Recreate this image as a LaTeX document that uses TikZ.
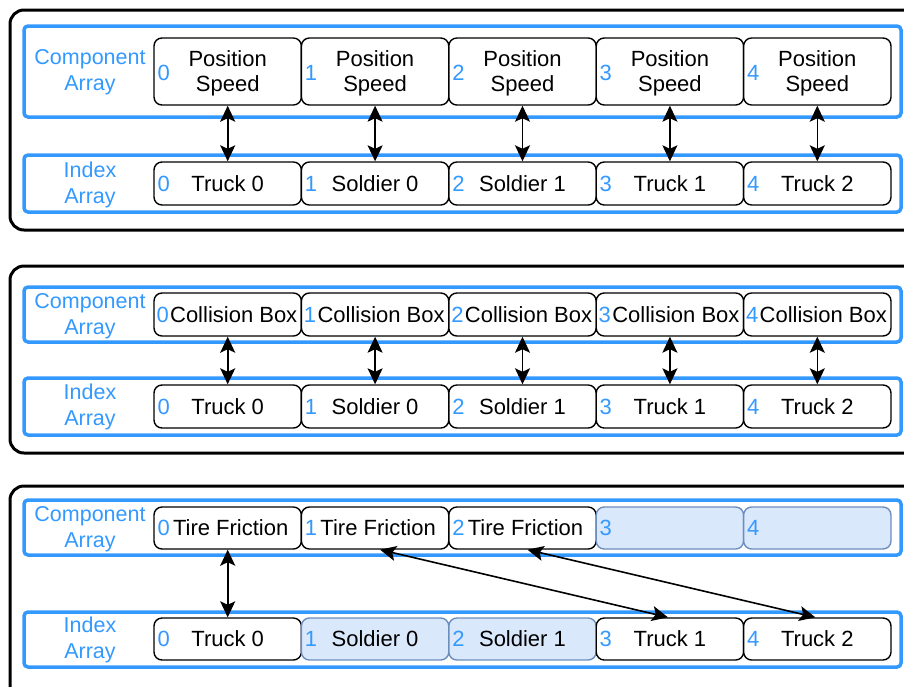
\documentclass[tikz,border=0pt]{standalone}
\usepackage{fontspec}
\setmainfont{Liberation Sans}
\usetikzlibrary{arrows.meta}
\definecolor{idxblue}{HTML}{3399FF}
\definecolor{freefill}{HTML}{DAE8FC}
\definecolor{freeline}{HTML}{6C8EBF}
\tikzset{
  panel/.style={draw=black, line width=3pt, rounded corners=14pt},
  arraybox/.style={draw=idxblue, line width=3.5pt, rounded corners=4pt},
  cell/.style={draw=black, line width=1.4pt, rounded corners=8pt, fill=white,
    minimum width=147.4pt, inner sep=0pt},
  freecell/.style={cell, draw=freeline, fill=freefill},
  arrlabel/.style={text=idxblue, align=center, inner sep=0pt,
    font=\fontsize{21.5}{26}\selectfont},
  num/.style={text=idxblue, anchor=west, inner sep=0pt,
    font=\fontsize{22}{25}\selectfont},
  txt/.style={align=center, inner sep=0pt, font=\fontsize{22}{25}\selectfont},
  headtip/.tip={Stealth[length=16pt,width=15pt,inset=3.5pt]},
  link/.style={line width=1.6pt, headtip-headtip}
}
\begin{document}
\begin{tikzpicture}[x=1pt, y=-1pt]
\useasboundingbox (0,0) rectangle (904,686);

% ---------- first system: Position / Speed ----------
\draw[panel] (10,10) rectangle (925,230);
\draw[arraybox] (24,26) rectangle (901,117);
\draw[arraybox] (24,155) rectangle (901,212);
\node[arrlabel] (la1) at (90,72) {Component\\Array};
\node[arrlabel] (lb1) at (90,185) {Index\\Array};
\foreach \i/\t in {0/Truck 0,1/Soldier 0,2/Soldier 1,3/Truck 1,4/Truck 2} {
  \node[cell, minimum height=67pt] (pa\i) at ({227.7+147.4*\i},71.5) {};
  \node[txt] (pa\i-t) at ([yshift=-2pt]pa\i.center) {Position\\Speed};
  \node[num] (pa\i-n) at ([xshift=4pt,yshift=-1pt]pa\i.west) {\i};
  \node[cell, minimum height=43pt] (pb\i) at ({227.7+147.4*\i},183.5) {};
  \node[txt] (pb\i-t) at (pb\i) {\t};
  \node[num] (pb\i-n) at ([xshift=4pt]pb\i.west) {\i};
  \draw[link] (pa\i.south) -- (pb\i.north);
}

% ---------- second system: Collision Box ----------
\draw[panel] (10,266) rectangle (925,453);
\draw[arraybox] (24,287) rectangle (901,342);
\draw[arraybox] (24,378) rectangle (901,435);
\node[arrlabel] (la2) at (90,316) {Component\\Array};
\node[arrlabel] (lb2) at (90,407) {Index\\Array};
\foreach \i/\t in {0/Truck 0,1/Soldier 0,2/Soldier 1,3/Truck 1,4/Truck 2} {
  \node[cell, minimum height=43pt] (qa\i) at ({227.7+147.4*\i},314.5) {};
  \node[txt] (qa\i-t) at ([xshift=6pt]qa\i.center) {Collision Box};
  \node[num] (qa\i-n) at ([xshift=3pt]qa\i.west) {\i};
  \node[cell, minimum height=43pt] (qb\i) at ({227.7+147.4*\i},406.5) {};
  \node[txt] (qb\i-t) at (qb\i) {\t};
  \node[num] (qb\i-n) at ([xshift=4pt]qb\i.west) {\i};
  \draw[link] (qa\i.south) -- (qb\i.north);
}

% ---------- third system: Tire Friction (sparse) ----------
\draw[panel] (10,486) rectangle (925,720);
\draw[arraybox] (24,500) rectangle (901,555);
\draw[arraybox] (24,612) rectangle (901,667);
\node[arrlabel] (la3) at (90,529) {Component\\Array};
\node[arrlabel] (lb3) at (90,640) {Index\\Array};
\foreach \i in {0,1,2} {
  \node[cell, minimum height=42pt] (ra\i) at ({227.7+147.4*\i},528) {};
  \node[txt] (ra\i-t) at ([xshift=3pt]ra\i.center) {Tire Friction};
  \node[num] (ra\i-n) at ([xshift=4pt]ra\i.west) {\i};
}
\foreach \i in {3,4} {
  \node[freecell, minimum height=42pt] (ra\i) at ({227.7+147.4*\i},528) {};
  \node[num] (ra\i-n) at ([xshift=4pt]ra\i.west) {\i};
}
\foreach \i/\t/\s in {0/Truck 0/cell,1/Soldier 0/freecell,2/Soldier 1/freecell,3/Truck 1/cell,4/Truck 2/cell} {
  \node[\s, minimum height=42pt] (rb\i) at ({227.7+147.4*\i},639) {};
  \node[txt] (rb\i-t) at (rb\i) {\t};
  \node[num] (rb\i-n) at ([xshift=4pt]rb\i.west) {\i};
}
\draw[link] (ra0.south) -- (rb0.north);
\draw[link] ([xshift=5pt]ra1.south) -- ([xshift=-2pt]rb3.north);
\draw[link] ([xshift=5pt]ra2.south) -- ([xshift=-2pt]rb4.north);
\end{tikzpicture}
\end{document}
